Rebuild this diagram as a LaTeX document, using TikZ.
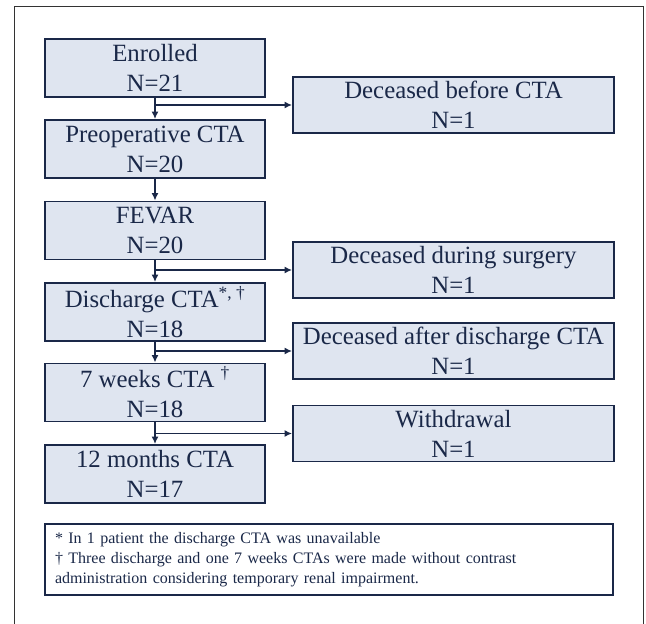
\documentclass[tikz,border=0pt]{standalone}
\usepackage{fontspec}
\setmainfont{Liberation Serif}
\usetikzlibrary{arrows.meta}
\definecolor{navy}{HTML}{1A2848}
\definecolor{paleblue}{HTML}{DFE5F0}

\tikzset{
  stage/.style={draw=navy, fill=paleblue, line width=1.8pt, text=navy, align=center,
    minimum width=220pt, minimum height=58pt, inner sep=0pt,
    font=\fontsize{24.8}{30}\selectfont},
  loss/.style={stage, minimum width=321pt, minimum height=56pt},
  flow/.style={draw=navy, line width=1.8pt, -{Latex[length=7.5pt,width=7pt]}}
}

\begin{document}
\begin{tikzpicture}[x=1pt, y=-1pt]
\useasboundingbox (0,0) rectangle (646,624);
\draw[line width=1pt, black!80] (14,624) -- (14,6) -- (643,6) -- (643,624);

% main line
\node[stage] (enr) at (155,68) {Enrolled\\N=21};
\node[stage] (pre) at (155,149) {Preoperative CTA\\N=20};
\node[stage] (fev) at (155,230.5) {FEVAR\\N=20};
\node[stage] (dis) at (155,312) {Discharge CTA\textsuperscript{*, †}\\N=18};
\node[stage] (wks) at (155,392.5) {7 weeks CTA \textsuperscript{†}\\N=18};
\node[stage] (mon) at (155,474) {12 months CTA\\N=17};

% drop outs
\node[loss] (d1) at (453.5,105) {Deceased before CTA\\N=1};
\node[loss] (d2) at (453.5,270) {Deceased during surgery\\N=1};
\node[loss] (d3) at (453.5,351) {Deceased after discharge CTA\\N=1};
\node[loss] (d4) at (453.5,433.5) {Withdrawal\\N=1};

\foreach \a/\b in {enr/pre, pre/fev, fev/dis, dis/wks, wks/mon}{\draw[flow] (\a) -- (\b);}
\foreach \a/\b in {enr/d1, fev/d2, dis/d3, wks/d4}{\draw[flow] (\a.south |- \b.west) -- (\b.west);}

\node[draw=navy, line width=1.8pt, text=navy, minimum width=568pt, minimum height=71pt,
  text width=548pt, inner sep=0pt, align=left, font=\fontsize{16}{20}\selectfont]
  (note) at (329,559.5) {* In 1 patient the discharge CTA was unavailable\\
  † Three discharge and one 7 weeks CTAs were made without contrast\\
  administration considering temporary renal impairment.};
\end{tikzpicture}
\end{document}
